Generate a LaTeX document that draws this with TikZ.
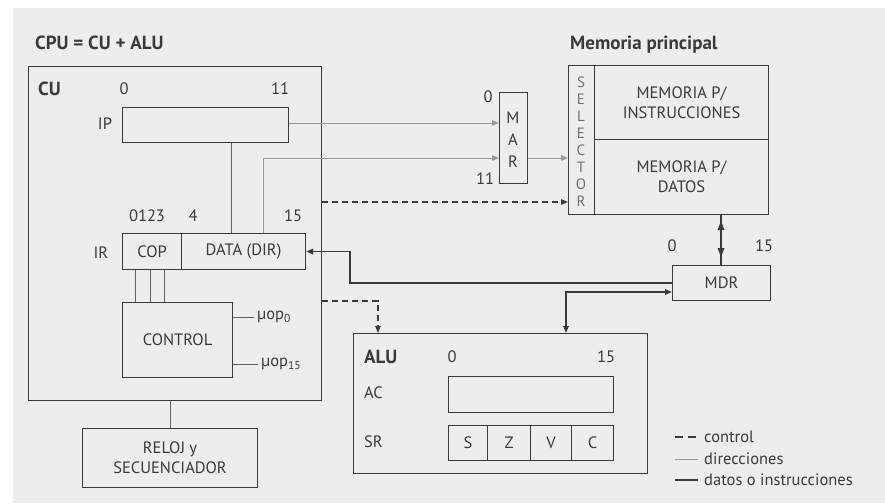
\documentclass[tikz,border=0pt]{standalone}
\usepackage{fontspec}
\setmainfont{PT Sans}
\usetikzlibrary{arrows.meta}
\definecolor{bg}{HTML}{EDEDED}
\definecolor{ink}{HTML}{3A3A3A}
\definecolor{addr}{HTML}{9A9A9A}
\definecolor{sel}{HTML}{707070}
\begin{document}
\begin{tikzpicture}[x=1pt,y=-1pt,
  font=\fontsize{16.5}{20}\selectfont, text=ink,
  box/.style={draw=ink, line width=1.1pt, inner sep=0pt, anchor=north west},
  lbl/.style={inner sep=0pt},
  bold/.style={inner sep=0pt, anchor=west, font=\fontsize{19}{22}\selectfont\bfseries},
  addrline/.style={draw=addr, line width=0.9pt},
  dataline/.style={draw=ink, line width=1.6pt},
  ctrlline/.style={draw=ink, line width=1.1pt, dash pattern=on 6pt off 4pt},
  thin/.style={draw=ink!80, line width=1pt},
  tipA/.style={-{Triangle[length=7pt,width=5.5pt]}},
]
\useasboundingbox (0,0) rectangle (885,503);
\fill[white] (0,0) rectangle (885,503);
\fill[bg] (13,8) rectangle (885,503);

% titles
\node[bold] (t1) at (35,43) {CPU = CU + ALU};
\node[bold] (t2) at (570,45) {Memoria principal};

% CU
\node[box, minimum width=293pt, minimum height=334pt] (cu) at (28,66) {};
\node[bold] (cul) at (38,89) {CU};
\node[lbl] (ip0) at (124,89) {0};
\node[lbl] (ip11) at (280,89) {11};
\node[lbl] (ipl) at (105,124) {IP};
\node[box, minimum width=166pt, minimum height=35pt] (ip) at (122,107) {};

\node[lbl] (ir0) at (147,216) {0123};
\node[lbl] (ir4) at (193,216) {4};
\node[lbl] (ir15) at (293,216) {15};
\node[lbl] (irl) at (101,253) {IR};
\node[box, minimum width=59pt, minimum height=36pt] (cop) at (122,233) {};
\node[box, minimum width=124pt, minimum height=36pt] (data) at (181,233) {};
\node[lbl] at (cop.center) {COP};
\node[lbl] at (data.center) {DATA (DIR)};

\node[box, minimum width=110pt, minimum height=75pt] (ctl) at (122,302) {};
\node[lbl] at (ctl.center) {CONTROL};
\node[lbl, anchor=west] (u0) at (257,317) {µop\textsubscript{0}};
\node[lbl, anchor=west] (u15) at (261,364) {µop\textsubscript{15}};

\node[box, minimum width=175pt, minimum height=59pt, align=center] (rel) at (82,428) {};
\node[lbl, align=center] at (rel.center) {RELOJ y\\SECUENCIADOR};

% MAR
\node[box, minimum width=28pt, minimum height=91pt] (mar) at (499,92) {};
\node[lbl] (m0) at (488,97) {0};
\node[lbl] (m11) at (485,179) {11};
\node[lbl] at (513,118) {M};
\node[lbl] at (513,140) {A};
\node[lbl] at (513,162) {R};

% Memory
\node[box, minimum width=26pt, minimum height=149pt] (sel) at (568,65) {};
\foreach \c [count=\i from 0] in {S,E,L,E,C,T,O,R}
  \node[lbl, text=sel, font=\fontsize{15}{17}\selectfont] at (581,82+17*\i) {\c};
\node[box, minimum width=174pt, minimum height=74pt] (memi) at (594,65) {};
\node[box, minimum width=174pt, minimum height=75pt] (memd) at (594,139) {};
\node[lbl, align=center] at (memi.center) {MEMORIA P/\\INSTRUCCIONES};
\node[lbl, align=center] at (memd.center) {MEMORIA P/\\DATOS};

% MDR
\node[lbl] (d0) at (672,246) {0};
\node[lbl] (d15) at (764,246) {15};
\node[box, minimum width=98pt, minimum height=35pt] (mdr) at (672,265) {};
\node[lbl] at (mdr.center) {MDR};

% ALU
\node[box, minimum width=294pt, minimum height=140pt] (alu) at (353,333) {};
\node[bold] (alul) at (364,357) {ALU};
\node[lbl] (a0) at (452,357) {0};
\node[lbl] (a15) at (606,357) {15};
\node[lbl, anchor=west] (acl) at (364,393) {AC};
\node[lbl, anchor=west] (srl) at (364,442) {SR};
\node[box, minimum width=165pt, minimum height=36pt] (ac) at (448,376) {};
\node[box, minimum width=39pt, minimum height=35pt] (fs) at (448,425) {};
\node[box, minimum width=43pt, minimum height=35pt] (fz) at (487,425) {};
\node[box, minimum width=41pt, minimum height=35pt] (fv) at (530,425) {};
\node[box, minimum width=42pt, minimum height=35pt] (fc) at (571,425) {};
\node[lbl] at (fs.center) {S};
\node[lbl] at (fz.center) {Z};
\node[lbl] at (fv.center) {V};
\node[lbl] at (fc.center) {C};

% helper coordinates
\coordinate (yip) at (0,123);
\coordinate (ymar) at (0,158);
\coordinate (yctl1) at (0,202);
\coordinate (yctl2) at (0,301);
\coordinate (xir) at (263,0);
\coordinate (xipv) at (231,0);
\coordinate (xturn) at (350,0);
\coordinate (xalu) at (566,0);
\coordinate (xctl) at (378,0);
\coordinate (xm) at (721,0);
\coordinate (ymdr2) at (0,292);

% address lines
\draw[addrline, tipA] (ip.east |- yip) -- (mar.west |- yip);
\draw[addrline, tipA] (data.north -| xir) -- (xir |- ymar) -- (mar.west |- ymar);
\draw[addrline, tipA] (mar.east |- ymar) -- (sel.west |- ymar);

% internal lines
\draw[thin] (ip.south -| xipv) -- (data.north -| xipv);
\foreach \x in {135,150,164}
  \draw[thin] (cop.south -| \x,0) -- (ctl.north -| \x,0);
\draw[thin] (ctl.east |- u0) -- ([xshift=-3pt]u0.west);
\draw[thin] (ctl.east |- u15) -- ([xshift=-3pt]u15.west);
\draw[thin] (rel.north) -- (rel.north |- cu.south);

% control lines
\draw[ctrlline, tipA] (cu.east |- yctl1) -- (sel.west |- yctl1);
\draw[ctrlline, tipA] (cu.east |- yctl2) -- (xctl |- yctl2) -- (alu.north -| xctl);

% data lines
\draw[dataline, tipA] (mdr.west) -- (xturn |- mdr.west) -- (xturn |- data.east) -- (data.east);
\draw[dataline, {Triangle[length=7pt,width=5.5pt]}-{Triangle[length=7pt,width=5.5pt]}] (alu.north -| xalu) -- (xalu |- ymdr2) -- (mdr.west |- ymdr2);
\draw[dataline] (memd.south -| xm) -- (mdr.north -| xm);
\fill[ink] (721,221) -- (724.5,230) -- (717.5,230) -- cycle;
\fill[ink] (721,257) -- (724.5,248) -- (717.5,248) -- cycle;

% legend
\coordinate (lg1) at (675,437);
\coordinate (lg2) at (675,459);
\coordinate (lg3) at (675,480);
\node[lbl, anchor=west] (l1) at (704,437) {control};
\node[lbl, anchor=west] (l2) at (704,459) {direcciones};
\node[lbl, anchor=west] (l3) at (704,480) {datos o instrucciones};
\draw[ctrlline, dash pattern=on 8pt off 5pt] (lg1) -- ([xshift=-6pt]l1.west);
\draw[addrline] (lg2) -- ([xshift=-6pt]l2.west);
\draw[dataline] (lg3) -- ([xshift=-6pt]l3.west);
\end{tikzpicture}
\end{document}
